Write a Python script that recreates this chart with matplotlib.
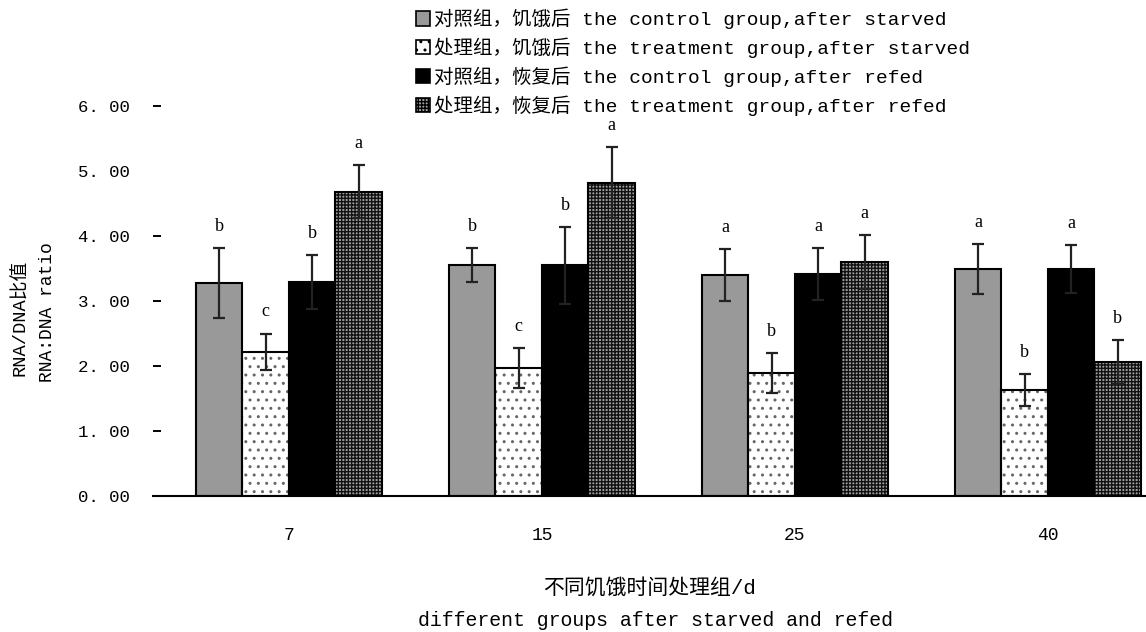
import matplotlib
matplotlib.use("Agg")
import matplotlib.pyplot as plt
import matplotlib.patches as mpatches
import numpy as np

plt.rcParams['font.family'] = ['Liberation Mono', 'Noto Sans CJK SC', 'DejaVu Sans']
plt.rcParams['hatch.linewidth'] = 1.0

categories = ['7', '15', '25', '40']
series_labels = [
    '对照组，饥饿后 the control group,after starved',
    '处理组，饥饿后 the treatment group,after starved',
    '对照组，恢复后 the control group,after refed',
    '处理组，恢复后 the treatment group,after refed',
]
ctrl_starved = [3.28, 3.55, 3.40, 3.49]
ctrl_starved_err = [0.54, 0.26, 0.40, 0.38]
treat_starved = [2.22, 1.97, 1.89, 1.63]
treat_starved_err = [0.28, 0.31, 0.31, 0.25]
ctrl_refed = [3.29, 3.55, 3.42, 3.49]
ctrl_refed_err = [0.42, 0.59, 0.40, 0.37]
treat_refed = [4.68, 4.82, 3.60, 2.06]
treat_refed_err = [0.41, 0.55, 0.42, 0.34]
letters_ctrl_starved = ['b', 'b', 'a', 'a']
letters_treat_starved = ['c', 'c', 'b', 'b']
letters_ctrl_refed = ['b', 'b', 'a', 'a']
letters_treat_refed = ['a', 'a', 'a', 'b']
yticks = [0, 1, 2, 3, 4, 5, 6]

values = [ctrl_starved, treat_starved, ctrl_refed, treat_refed]
errors = [ctrl_starved_err, treat_starved_err, ctrl_refed_err, treat_refed_err]
letters = [letters_ctrl_starved, letters_treat_starved, letters_ctrl_refed, letters_treat_refed]

faces = ['#999999', 'white', 'black', '#a0a0a0']
hatches = [None, '..', None, '+++++']
hatch_cols = ['#999999', '#666666', 'black', '#111111']

W, H = 1146, 632
fig = plt.figure(figsize=(W / 100, H / 100), dpi=100)
ax = fig.add_axes([153 / W, (H - 496) / H, (1146 - 153) / W, (496 - 106) / H])

x = np.arange(len(categories))
bw = 0.1838
offs = [-1.5, -0.5, 0.5, 1.5]

for k in range(4):
    pos = x + offs[k] * bw
    ax.bar(pos, values[k], width=bw, color=faces[k], hatch=hatches[k],
           edgecolor=hatch_cols[k], linewidth=0, zorder=2)
    ax.bar(pos, values[k], width=bw, fill=False, edgecolor='black',
           linewidth=1.5, zorder=3)
    ax.errorbar(pos, values[k], yerr=errors[k], fmt='none', ecolor='#222222',
                elinewidth=1.6, capsize=4.3, capthick=1.6, zorder=4)
    for i in range(len(categories)):
        ax.annotate(letters[k][i], (pos[i], values[k][i] + errors[k][i]),
                    xytext=(0, 15.5), textcoords='offset points',
                    ha='center', va='center', fontsize=13,
                    family=['Liberation Serif'])

ax.set_xlim(-0.5375, 3.3875)
ax.set_ylim(0, 6)
ax.set_xticks(x)
ax.set_xticklabels(categories, fontsize=13)
ax.set_yticks(yticks)
ax.set_yticklabels([f"{v:.2f}".replace('.', '. ') for v in yticks], fontsize=12.5)
ax.tick_params(axis='x', length=0, pad=22)
ax.tick_params(axis='y', direction='in', length=5.8, width=1.4, pad=16.5)
ytk = ax.yaxis.get_major_ticks()
ytk[0].tick1line.set_visible(False)
ytk[5].tick1line.set_visible(False)
for s in ['left', 'right', 'top']:
    ax.spines[s].set_visible(False)
ax.spines['bottom'].set_linewidth(1.5)
ax.set_facecolor('none')

handles = [mpatches.Patch(facecolor=faces[k], hatch=hatches[k], edgecolor='black',
                          linewidth=1.2) for k in range(4)]
fig.legend(handles, series_labels, loc='upper left',
           bbox_to_anchor=(406 / W, 1 + 1 / H), frameon=False, fontsize=14,
           handlelength=0.75, handleheight=0.75, handletextpad=0.2,
           labelspacing=0.43, borderpad=0.0)

fig.text(650 / W, 1 - 588 / H, '不同饥饿时间处理组/d', ha='center', va='center',
         fontsize=15)
fig.text(655 / W, 1 - 620 / H, 'different groups after starved and refed',
         ha='center', va='center', fontsize=14.3)
fig.text(21 / W, 1 - 318 / H, 'RNA/DNA比值', rotation=90, ha='center',
         va='center', fontsize=13.5)
fig.text(47 / W, 1 - 312 / H, 'RNA:DNA ratio', rotation=90, ha='center',
         va='center', fontsize=13)

fig.savefig('out.png', dpi=100)
